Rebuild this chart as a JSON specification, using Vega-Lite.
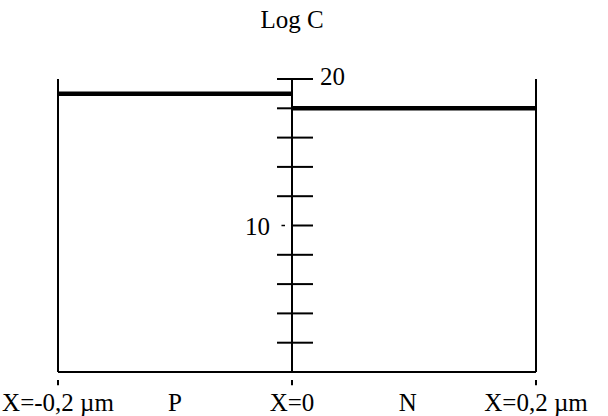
{
  "$schema": "https://vega.github.io/schema/vega-lite/v6.json",
  "width": 478,
  "height": 293,
  "autosize": {"type": "none"},
  "padding": {"left": 58, "top": 79, "right": 72, "bottom": 44},
  "background": "white",
  "config": {"view": {"stroke": null}},
  "data": {"values": [{"one": 1}]},
  "datasets": {
    "levels": [
      {"region": "P", "x_start": -0.2, "x_end": 0, "logC": 19},
      {"region": "N", "x_start": 0, "x_end": 0.2, "logC": 18}
    ],
    "ticks": [
      {"logC": 2}, {"logC": 4}, {"logC": 6}, {"logC": 8}, {"logC": 10},
      {"logC": 12}, {"logC": 14}, {"logC": 16}, {"logC": 18}, {"logC": 20}
    ],
    "bounds": [{"x": -0.2}, {"x": 0}, {"x": 0.2}],
    "labels": [
      {"x": -0.2, "label": "X=-0,2 µm"},
      {"x": -0.1, "label": "P"},
      {"x": 0, "label": "X=0"},
      {"x": 0.095, "label": "N"},
      {"x": 0.2, "label": "X=0,2 µm"}
    ]
  },
  "layer": [
    {
      "data": {"name": "bounds"},
      "mark": {"type": "rule", "color": "black", "strokeWidth": 2},
      "encoding": {
        "x": {"field": "x", "type": "quantitative", "scale": {"domain": [-0.2, 0, 0.2], "range": [0, 234, 478], "nice": false, "zero": false}, "axis": null},
        "y": {"datum": 0, "type": "quantitative", "scale": {"domain": [0, 20], "nice": false}, "axis": null},
        "y2": {"datum": 20}
      }
    },
    {
      "data": {"name": "bounds"},
      "mark": {"type": "rule", "color": "black", "strokeWidth": 2},
      "encoding": {
        "x": {"field": "x", "type": "quantitative"},
        "y": {"datum": -0.55, "type": "quantitative"},
        "y2": {"datum": -0.9}
      }
    },
    {
      "mark": {"type": "rule", "color": "black", "strokeWidth": 2},
      "encoding": {
        "x": {"datum": -0.2, "type": "quantitative"},
        "x2": {"datum": 0.2},
        "y": {"datum": 0, "type": "quantitative"}
      }
    },
    {
      "data": {"name": "ticks"},
      "transform": [{"filter": "datum.logC != 10"}],
      "mark": {"type": "rule", "color": "black", "strokeWidth": 2},
      "encoding": {
        "x": {"datum": -0.0128, "type": "quantitative"},
        "x2": {"datum": 0},
        "y": {"field": "logC", "type": "quantitative"}
      }
    },
    {
      "data": {"name": "ticks"},
      "mark": {"type": "rule", "color": "black", "strokeWidth": 2},
      "encoding": {
        "x": {"datum": 0, "type": "quantitative"},
        "x2": {"datum": 0.0172},
        "y": {"field": "logC", "type": "quantitative"}
      }
    },
    {
      "mark": {"type": "rule", "color": "black", "strokeWidth": 1.5},
      "encoding": {
        "x": {"datum": -0.009, "type": "quantitative"},
        "x2": {"datum": -0.006},
        "y": {"datum": 10, "type": "quantitative"}
      }
    },
    {
      "data": {"name": "levels"},
      "mark": {"type": "rule", "color": "black", "strokeWidth": 4.5},
      "encoding": {
        "x": {"field": "x_start", "type": "quantitative"},
        "x2": {"field": "x_end"},
        "y": {"field": "logC", "type": "quantitative"}
      }
    },
    {
      "data": {"name": "labels"},
      "mark": {"type": "text", "font": "Times New Roman, Liberation Serif, serif", "color": "black", "fontSize": 25, "baseline": "middle", "align": "center", "dy": 31},
      "encoding": {
        "x": {"field": "x", "type": "quantitative"},
        "y": {"datum": 0, "type": "quantitative"},
        "text": {"field": "label"}
      }
    },
    {
      "mark": {"type": "text", "font": "Times New Roman, Liberation Serif, serif", "color": "black", "fontSize": 25, "baseline": "middle", "align": "left", "dx": 7, "dy": -2},
      "encoding": {
        "x": {"datum": 0.0172, "type": "quantitative"},
        "y": {"datum": 20, "type": "quantitative"},
        "text": {"value": "20"}
      }
    },
    {
      "mark": {"type": "text", "font": "Times New Roman, Liberation Serif, serif", "color": "black", "fontSize": 25, "baseline": "middle", "align": "right", "dx": -22, "dy": 1},
      "encoding": {
        "x": {"datum": 0, "type": "quantitative"},
        "y": {"datum": 10, "type": "quantitative"},
        "text": {"value": "10"}
      }
    },
    {
      "mark": {"type": "text", "font": "Times New Roman, Liberation Serif, serif", "color": "black", "fontSize": 25, "baseline": "middle", "align": "center", "dy": -59},
      "encoding": {
        "x": {"datum": 0, "type": "quantitative"},
        "y": {"datum": 20, "type": "quantitative"},
        "text": {"value": "Log C"}
      }
    }
  ]
}
